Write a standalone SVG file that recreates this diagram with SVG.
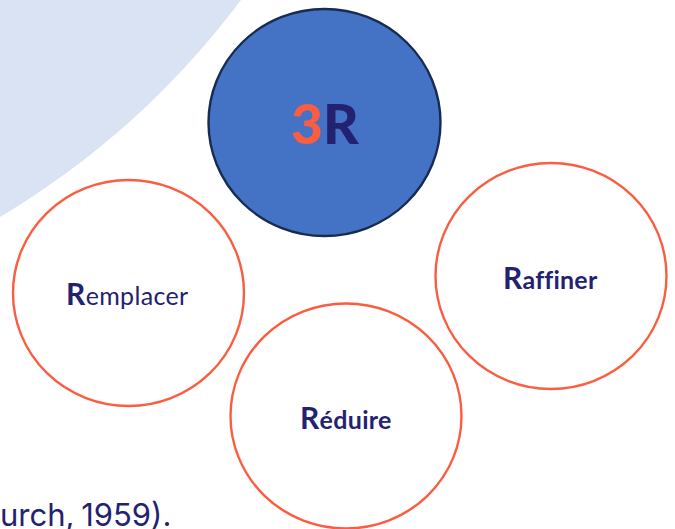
<svg xmlns="http://www.w3.org/2000/svg" width="675" height="529" viewBox="0 0 675 529">
<style>
.c{fill:#fff;stroke:#fb5d41;stroke-width:2.4}
.t{font-family:Lato,"Open Sans",sans-serif;fill:#232270;font-variant-ligatures:none}
.b{font-weight:700}
</style>
<rect width="675" height="529" fill="#fff"/>
<path id="corner" d="M0 0H241C175 88 95 160 0 217Z" fill="#dae3f3"/>
<g id="connectors"></g>
<g id="n3r"><ellipse cx="324.500" cy="122.500" rx="116" ry="113.500" fill="#4472c4" stroke="#172c51" stroke-width="2.400"/>
<text x="291" y="144" class="t" font-weight="900" font-size="55"><tspan fill="#fb5d41">3</tspan>R</text></g>
<g id="remplacer"><ellipse class="c" cx="128.500" cy="293" rx="115.500" ry="113"/>
<text x="66" y="305" class="t" font-size="25" letter-spacing="0.350"><tspan class="b" font-size="30">R</tspan>emplacer</text></g>
<g id="raffiner"><ellipse class="c" cx="551" cy="276" rx="115.500" ry="113"/>
<text x="503" y="289" class="t b" font-size="25" letter-spacing="0.200"><tspan font-size="30">R</tspan>affiner</text></g>
<g id="reduire"><ellipse class="c" cx="346" cy="416" rx="115.500" ry="112.500"/>
<text x="300" y="429" class="t b" font-size="25" letter-spacing="0.300"><tspan font-size="30">R</tspan>éduire</text></g>
<text x="0" y="526" font-family="Inter,'Open Sans',sans-serif" font-size="31" word-spacing="-2" fill="#232270">urch, 1959).</text>
</svg>
